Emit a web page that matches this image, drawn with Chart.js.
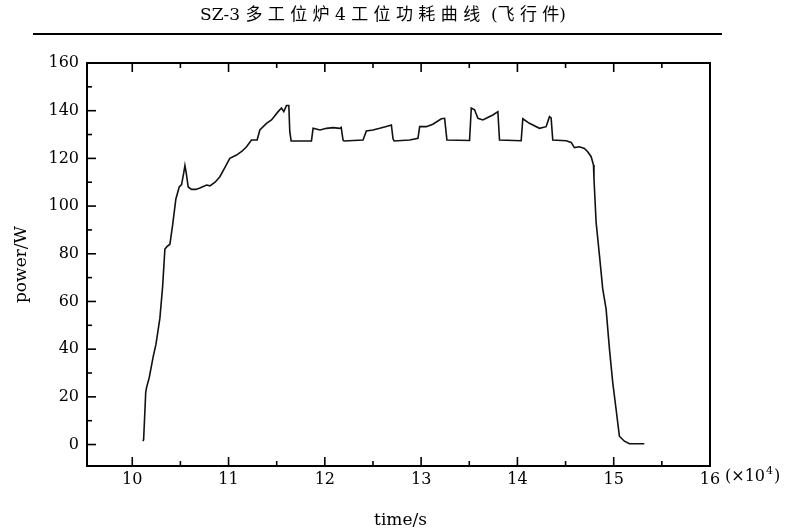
<!DOCTYPE html>
<html>
<head>
<meta charset="utf-8">
<script src="https://cdn.jsdelivr.net/npm/chart.js@4/dist/chart.umd.min.js"></script>
<style>
  html, body { margin: 0; padding: 0; background: #fff; }
  #wrap { width: 789px; height: 531px; position: relative; }
</style>
</head>
<body>
<div id="wrap"><canvas id="c"></canvas></div>
<script>
// ---- data (time in 10^4 s, power in W) ----
const timeValues = [
  10.110, 10.118, 10.140, 10.149, 10.176, 10.218, 10.246, 10.287, 10.315, 10.339,
  10.360, 10.391, 10.419, 10.453, 10.488, 10.512, 10.535, 10.547, 10.560, 10.581,
  10.616, 10.660, 10.702, 10.772, 10.807, 10.860, 10.910, 10.960, 11.013, 11.083,
  11.140, 11.187, 11.238, 11.297, 11.325, 11.394, 11.446, 11.515, 11.550, 11.574,
  11.602, 11.626, 11.636, 11.650, 11.861, 11.878, 11.950, 12.017, 12.085, 12.155,
  12.170, 12.189, 12.200, 12.397, 12.431, 12.500, 12.570, 12.640, 12.691, 12.708,
  12.720, 12.881, 12.967, 12.985, 13.054, 13.122, 13.210, 13.244, 13.268, 13.503,
  13.521, 13.555, 13.590, 13.641, 13.676, 13.745, 13.797, 13.814, 14.039, 14.056,
  14.125, 14.229, 14.298, 14.333, 14.350, 14.367, 14.506, 14.558, 14.592, 14.644,
  14.696, 14.730, 14.766, 14.790, 14.795, 14.817, 14.852, 14.886, 14.921, 14.956,
  14.990, 15.025, 15.059, 15.111, 15.163, 15.318
];
const powerValues = [
  1.5, 2.0, 22, 24, 28, 37, 42, 53, 66, 82,
  83, 84, 92, 103, 108, 109, 114, 117, 114, 108,
  107, 107, 107.6, 108.8, 108.5, 110, 112.3, 116, 120, 121.4,
  123, 124.9, 127.7, 127.7, 131.9, 134.7, 136.1, 139.6, 141.1, 139.6,
  142.2, 142.2, 131.2, 127.3, 127.3, 132.6, 131.9, 132.6, 132.9, 132.6,
  133, 127.7, 127.3, 127.7, 131.5, 131.9, 132.6, 133.4, 134.0, 128.2,
  127.3, 127.7, 128.4, 133.3, 133.3, 134.3, 136.6, 136.8, 127.7, 127.5,
  141.1, 140.4, 136.8, 136.1, 136.8, 138.2, 139.6, 127.7, 127.4, 136.6,
  134.7, 132.6, 133.3, 137.5, 137, 127.7, 127.4, 126.7, 124.5, 124.9,
  124.2, 122.8, 120.7, 117.2, 111.6, 93.3, 79.3, 65.3, 56.8, 40,
  26, 14.7, 3.5, 1.4, 0.3, 0.3
];
const xTickLabels = [10, 11, 12, 13, 14, 15, 16];
const xMinorTicks = [10.5, 11.5, 12.5, 13.5, 14.5, 15.5];
const yTickLabels = [0, 20, 40, 60, 80, 100, 120, 140, 160];
const yMinorTicks = [10, 30, 50, 70, 90, 110, 130, 150];

const titleText = 'SZ-3多工位炉4工位功耗曲线 (飞行件)';
const xTitle = 'time/s';
const yTitle = 'power/W';

const SERIF = "'DejaVu Serif', 'Noto Sans CJK SC', serif";

const points = timeValues.map((t, i) => ({ x: t, y: powerValues[i] }));

const framePlugin = {
  id: 'frame',
  afterDraw(chart) {
    const { ctx, chartArea: a, scales: { x, y } } = chart;
    ctx.save();
    ctx.strokeStyle = '#000';
    ctx.lineCap = 'butt';
    // frame
    ctx.lineWidth = 2;
    ctx.strokeRect(a.left, a.top, a.right - a.left, a.bottom - a.top);
    const seg = (x1, y1, x2, y2) => { ctx.beginPath(); ctx.moveTo(x1, y1); ctx.lineTo(x2, y2); ctx.stroke(); };
    ctx.lineWidth = 1.6;
    yTickLabels.forEach(v => { const p = y.getPixelForValue(v); seg(a.left, p, a.left + 9, p); });
    yMinorTicks.forEach(v => { const p = y.getPixelForValue(v); seg(a.left, p, a.left + 5, p); });
    xTickLabels.forEach(v => {
      const p = x.getPixelForValue(v);
      if (p < a.right - 2) { seg(p, a.bottom, p, a.bottom - 9); seg(p, a.top, p, a.top + 9); }
    });
    xMinorTicks.forEach(v => {
      const p = x.getPixelForValue(v);
      seg(p, a.bottom, p, a.bottom - 5); seg(p, a.top, p, a.top + 5);
    });
    // multiplier text
    ctx.fillStyle = '#000';
    ctx.textBaseline = 'middle';
    ctx.textAlign = 'left';
    ctx.font = "16px " + SERIF;
    const px16 = x.getPixelForValue(16);
    const mx = px16 + 15;
    const my = a.bottom + 11;
    ctx.fillText('(×10', mx, my);
    const w1 = ctx.measureText('(×10').width;
    ctx.font = "11px " + SERIF;
    ctx.fillText('4', mx + w1 + 1, my - 6);
    const w2 = ctx.measureText('4').width;
    ctx.font = "16px " + SERIF;
    ctx.fillText(')', mx + w1 + w2 + 2, my);
    // axis titles
    ctx.font = "17px " + SERIF;
    ctx.textAlign = 'center';
    ctx.fillText(xTitle, (a.left + a.right) / 2 + 2, 521);
    ctx.save();
    ctx.translate(22, (a.top + a.bottom) / 2);
    ctx.rotate(-Math.PI / 2);
    ctx.fillText(yTitle, 0, 0);
    ctx.restore();
    // chart title and rule
    ctx.font = "17px " + SERIF;
    const chars = Array.from(titleText);
    const widths = chars.map(ch => ctx.measureText(ch).width);
    const natural = widths.reduce((s, w) => s + w, 0);
    const cjk = ch => /[\u3400-\u9fff0-9]/.test(ch);
    // extra spacing only between CJK glyphs (and digits next to them)
    const gapsIdx = [];
    for (let i = 0; i < chars.length - 1; i++) {
      const a1 = chars[i], b1 = chars[i + 1];
      if (a1 === '(' || b1 === ')' ) continue;
      if ((cjk(a1) && cjk(b1)) || (a1 === ' ')) gapsIdx.push(i);
    }
    const target = 366;
    const extra = Math.max(0, (target - natural) / gapsIdx.length);
    let cx = 383 - target / 2;
    ctx.textAlign = 'left';
    chars.forEach((ch, i) => {
      ctx.fillText(ch, cx, 16);
      cx += widths[i] + (gapsIdx.includes(i) ? extra : 0);
    });
    ctx.lineWidth = 2;
    seg(33, 34, 722, 34);
    ctx.restore();
  }
};

Chart.defaults.font.family = SERIF;
Chart.defaults.font.size = 16;
Chart.defaults.color = '#000';

new Chart(document.getElementById('c'), {
  type: 'line',
  data: {
    datasets: [{
      data: points,
      borderColor: '#111',
      borderWidth: 1.6,
      pointRadius: 0,
      tension: 0,
      fill: false
    }]
  },
  options: {
    responsive: true,
    maintainAspectRatio: false,
    animation: false,
    layout: { padding: { top: 63, left: 0, right: 79, bottom: 0 } },
    plugins: { legend: { display: false }, tooltip: { enabled: false }, title: { display: false } },
    scales: {
      x: {
        type: 'linear',
        min: 9.53,
        max: 16,
        grid: { display: false, drawTicks: false },
        border: { display: false },
        afterBuildTicks: s => { s.ticks = xTickLabels.map(v => ({ value: v })); },
        afterFit: s => { s.height = 65; },
        ticks: { padding: 4, maxRotation: 0, autoSkip: false, font: { size: 16 }, callback: v => String(v) }
      },
      y: {
        min: -9,
        max: 160,
        grid: { display: false, drawTicks: false },
        border: { display: false },
        afterBuildTicks: s => { s.ticks = yTickLabels.map(v => ({ value: v })); },
        afterFit: s => { s.width = 87; },
        ticks: { padding: 8, font: { size: 16 }, callback: v => String(v) }
      }
    }
  },
  plugins: [framePlugin]
});
</script>
</body>
</html>
